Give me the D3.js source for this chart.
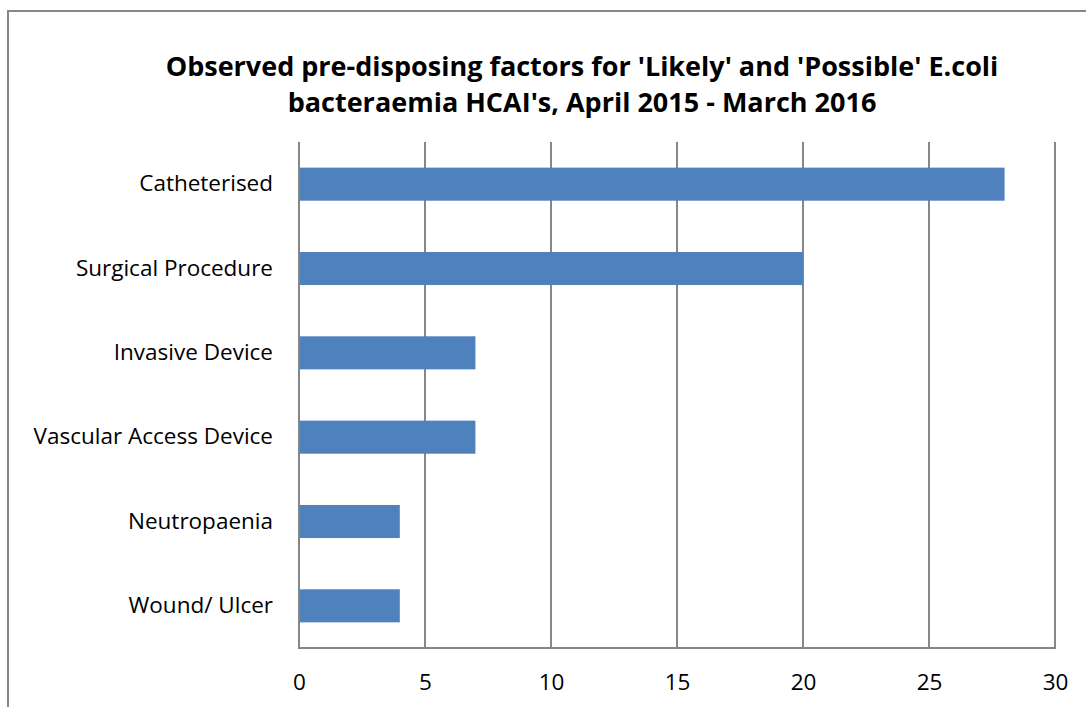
<!DOCTYPE html>
<html>
<head>
<meta charset="utf-8">
<script src="https://cdn.jsdelivr.net/npm/d3@7"></script>
<style>
  html, body { margin: 0; padding: 0; background: #ffffff; }
  svg { display: block; }
  text { font-family: "Open Sans", "Liberation Sans", sans-serif; fill: #000; }
</style>
</head>
<body>
<svg id="chart" width="1086" height="707"></svg>
<script>
// Pre-disposing factors and case counts
const categories = [
  "Catheterised",
  "Surgical Procedure",
  "Invasive Device",
  "Vascular Access Device",
  "Neutropaenia",
  "Wound/ Ulcer"
];
const counts = [28, 20, 7, 7, 4, 4];
const tickValues = [0, 5, 10, 15, 20, 25, 30];
const titleLines = [
  "Observed pre-disposing factors for 'Likely' and 'Possible' E.coli",
  "bacteraemia HCAI's, April 2015 - March 2016"
];

const svg = d3.select("#chart");
const W = 1086, H = 707;

// Chart frame (left and top edges)
svg.append("path")
  .attr("d", `M8,${H} L8,11 L${W},11`)
  .attr("fill", "none")
  .attr("stroke", "#868686")
  .attr("stroke-width", 2);

const plot = { left: 299, right: 1055, top: 142, bottom: 648 };

const x = d3.scaleLinear().domain([0, 30]).range([plot.left, plot.right]);
const y = d3.scaleBand().domain(categories).range([plot.top, plot.bottom]).paddingInner(0.608).paddingOuter(0.304);

// Vertical gridlines
svg.append("g")
  .selectAll("line")
  .data(tickValues)
  .join("line")
  .attr("x1", d => x(d)).attr("x2", d => x(d))
  .attr("y1", plot.top).attr("y2", plot.bottom)
  .attr("stroke", "#868686")
  .attr("stroke-width", 2);

// Bars
svg.append("g")
  .selectAll("rect")
  .data(categories)
  .join("rect")
  .attr("x", x(0) + 1)
  .attr("y", d => y(d))
  .attr("width", (d, i) => x(counts[i]) - x(0) - 1)
  .attr("height", y.bandwidth())
  .attr("fill", "#4f81bd");

// Bottom axis line
svg.append("line")
  .attr("x1", plot.left - 1).attr("x2", plot.right + 1)
  .attr("y1", plot.bottom).attr("y2", plot.bottom)
  .attr("stroke", "#868686")
  .attr("stroke-width", 2);

// X axis
const xAxis = d3.axisBottom(x).tickValues(tickValues).tickSize(0).tickPadding(0);
const gx = svg.append("g").attr("transform", `translate(0,${plot.bottom})`).call(xAxis);
gx.select(".domain").remove();
gx.selectAll("text")
  .attr("dy", null)
  .attr("y", 42)
  .style("font-size", "22.5px")
  .style("font-family", "'Open Sans', sans-serif")
  .attr("fill", "#000");

// Y axis labels
const yAxis = d3.axisLeft(y).tickSize(0).tickPadding(26);
const gy = svg.append("g").attr("transform", `translate(${plot.left},0)`).call(yAxis);
gy.select(".domain").remove();
gy.selectAll("text")
  .style("font-size", "22.5px")
  .style("font-family", "'Open Sans', sans-serif")
  .attr("fill", "#000");

// Title
svg.append("g")
  .selectAll("text")
  .data(titleLines)
  .join("text")
  .attr("x", 582)
  .attr("y", (d, i) => 76 + i * 36)
  .attr("text-anchor", "middle")
  .style("font-size", "27px")
  .style("font-weight", "bold")
  .text(d => d);
</script>
</body>
</html>
